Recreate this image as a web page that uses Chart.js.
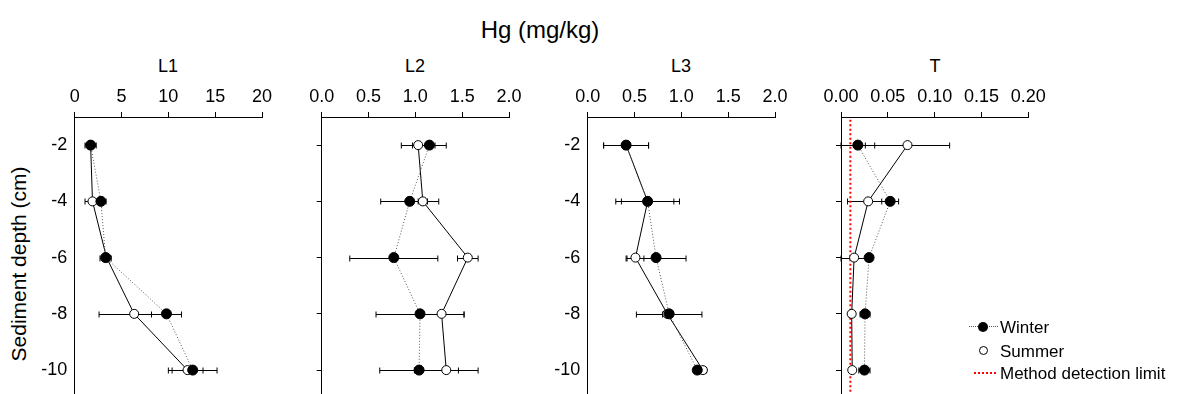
<!DOCTYPE html>
<html>
<head>
<meta charset="utf-8">
<script src="https://cdn.jsdelivr.net/npm/chart.js@4.4.1/dist/chart.umd.min.js"></script>
<style>
  body { margin: 0; width: 1182px; height: 394px; position: relative; overflow: hidden; background: #fff;
         font-family: "Liberation Sans", Arial, Helvetica, sans-serif; color: #000; }
  canvas { position: absolute; top: 0; }
  .lbl { position: absolute; white-space: nowrap; transform: translate(-50%, -50%); line-height: 1; }
  .leg { position: absolute; left: 1000px; font-size: 17px; line-height: 1; transform: translateY(-50%); white-space: nowrap; }
  .mark { position: absolute; box-sizing: border-box; }
</style>
</head>
<body>
<div class="lbl" style="left:540px;top:30px;font-size:24px">Hg (mg/kg)</div>
<div class="lbl" style="left:168px;top:66px;font-size:18px">L1</div>
<div class="lbl" style="left:415px;top:66px;font-size:18px">L2</div>
<div class="lbl" style="left:681px;top:66px;font-size:18px">L3</div>
<div class="lbl" style="left:935px;top:66px;font-size:18px">T</div>
<div class="lbl" style="left:18px;top:264px;font-size:21px;transform:translate(-50%,-50%) rotate(-90deg)">Sediment depth (cm)</div>

<canvas id="c1"></canvas>
<canvas id="c2"></canvas>
<canvas id="c3"></canvas>
<canvas id="c4"></canvas>

<!-- legend -->
<div class="mark" style="left:969px;top:326px;width:29px;height:0;border-top:1px dotted #555"></div>
<div class="mark" style="left:978px;top:322px;width:10px;height:10px;border-radius:50%;background:#000"></div>
<div class="leg" style="top:327px">Winter</div>
<div class="mark" style="left:978.5px;top:346px;width:9px;height:9px;border-radius:50%;border:1px solid #000;background:#fff"></div>
<div class="leg" style="top:351px">Summer</div>
<div class="mark" style="left:974px;top:372px;width:22px;height:0;border-top:2px dotted #ff0000"></div>
<div class="leg" style="top:373px">Method detection limit</div>

<script>
Chart.defaults.font.family = '"Liberation Sans", Arial, Helvetica, sans-serif';
Chart.defaults.color = "#000";

var depths = [-2, -4, -6, -8, -10];
var depthMin = -10.85;
var depthMax = -1;

var l1Ticks = [0, 5, 10, 15, 20];
var l23Ticks = [0, 0.5, 1, 1.5, 2];
var tTicks = [0, 0.05, 0.1, 0.15, 0.2];

// L1
var l1Winter = [1.7, 2.8, 3.3, 9.8, 12.6];
var l1WinterErr = [0.6, 0.55, 0.6, 1.6, 2.6];
var l1Summer = [1.7, 1.9, 3.4, 6.35, 12.05];
var l1SummerErr = [0.2, 0.8, 0.3, 3.75, 1.65];
// L2
var l2Winter = [1.15, 0.94, 0.77, 1.05, 1.04];
var l2WinterErr = [0.18, 0.31, 0.47, 0.47, 0.42];
var l2Summer = [1.03, 1.08, 1.56, 1.28, 1.33];
var l2SummerErr = [0.18, 0.05, 0.11, 0.24, 0.34];
// L3
var l3Winter = [0.41, 0.64, 0.73, 0.87, 1.17];
var l3WinterErr = [0.24, 0.34, 0.32, 0.35, 0.03];
var l3Summer = [0.41, 0.64, 0.51, 0.85, 1.23];
var l3SummerErr = [0.24, 0.28, 0.09, 0.05, 0.04];
// T
var tWinter = [0.018, 0.0525, 0.030, 0.0257, 0.025];
var tWinterErr = [0.018, 0.009, 0.003, 0.0053, 0.006];
var tSummer = [0.071, 0.029, 0.014, 0.0114, 0.012];
var tSummerErr = [0.045, 0.022, 0.014, 0.003, 0.002];
var detectionLimit = 0.01;

function pts(vals) {
  return vals.map(function (v, i) { return { x: v, y: depths[i] }; });
}

// horizontal error bars with small caps, under the markers
var errorBars = {
  id: "errorBars",
  beforeDatasetsDraw: function (chart) {
    var ctx = chart.ctx, xs = chart.scales.x, ys = chart.scales.y;
    ctx.save();
    ctx.strokeStyle = "#000";
    ctx.lineWidth = 1;
    chart.data.datasets.forEach(function (ds) {
      if (!ds.errors) return;
      ds.data.forEach(function (p, i) {
        var e = ds.errors[i];
        var x1 = xs.getPixelForValue(p.x - e);
        var x2 = xs.getPixelForValue(p.x + e);
        var y = Math.round(ys.getPixelForValue(p.y)) + 0.5;
        ctx.beginPath();
        ctx.moveTo(x1, y); ctx.lineTo(x2, y);
        ctx.moveTo(x1, y - 3); ctx.lineTo(x1, y + 3);
        ctx.moveTo(x2, y - 3); ctx.lineTo(x2, y + 3);
        ctx.stroke();
      });
    });
    ctx.restore();
  }
};

function makePanel(id, axisX, winter, winterErr, summer, summerErr, xTicks, digits, yLabels, mdl) {
  var canvas = document.getElementById(id);
  var left = Math.floor(axisX) - 72;
  var yW = axisX - left;
  var plotW = 187.3;
  var w = Math.ceil(yW + plotW + 26);
  canvas.style.left = left + "px";
  canvas.width = w;
  canvas.height = 394;

  var datasets = [
    { label: "Winter", data: pts(winter), errors: winterErr, showLine: true,
      borderColor: "#555", borderWidth: 1, borderDash: [1, 2],
      pointRadius: 5, pointBackgroundColor: "#000", pointBorderColor: "#000", pointBorderWidth: 1 },
    { label: "Summer", data: pts(summer), errors: summerErr, showLine: true,
      borderColor: "#000", borderWidth: 1,
      pointRadius: 4.5, pointBackgroundColor: "#fff", pointBorderColor: "#000", pointBorderWidth: 1 }
  ];
  if (mdl !== undefined) {
    datasets.push({ label: "Method detection limit",
      data: [{ x: mdl, y: depthMax - 0.1 }, { x: mdl, y: depthMin }],
      showLine: true, borderColor: "#ff0000", borderWidth: 2, borderDash: [2, 2.5], pointRadius: 0 });
  }

  new Chart(canvas, {
    type: "scatter",
    data: { datasets: datasets },
    options: {
      responsive: false,
      animation: false,
      layout: { autoPadding: false, padding: { left: 0, top: 0, bottom: 0, right: w - yW - plotW } },
      plugins: { legend: { display: false }, tooltip: { enabled: false } },
      scales: {
        x: {
          type: "linear", position: "top",
          min: xTicks[0], max: xTicks[xTicks.length - 1],
          afterBuildTicks: function (s) { s.ticks = xTicks.map(function (v) { return { value: v }; }); },
          afterFit: function (s) { s.height = 117; s.paddingLeft = 0; s.paddingRight = 0; },
          grid: { drawOnChartArea: false, drawTicks: true, tickLength: 5, color: "#000", lineWidth: 1 },
          border: { display: true, color: "#000", width: 1 },
          ticks: { color: "#000", font: { size: 18 }, padding: 4, maxRotation: 0, autoSkip: false,
            callback: function (v) { return Number(v).toFixed(digits); } }
        },
        y: {
          type: "linear", min: depthMin, max: depthMax,
          afterBuildTicks: function (s) { s.ticks = depths.map(function (v) { return { value: v }; }); },
          afterFit: function (s) { s.width = yW; s.paddingTop = 0; s.paddingBottom = 0; },
          grid: { drawOnChartArea: false, drawTicks: !yLabels, tickLength: 5, color: "#000", lineWidth: 1 },
          border: { display: true, color: "#000", width: 1 },
          ticks: { color: "#000", font: { size: 18 }, padding: 7.5, autoSkip: false,
            callback: function (v) { return yLabels ? String(v) : ""; } }
        }
      }
    },
    plugins: [errorBars]
  });
}

makePanel("c1", 74.7, l1Winter, l1WinterErr, l1Summer, l1SummerErr, l1Ticks, 0, true);
makePanel("c2", 321.7, l2Winter, l2WinterErr, l2Summer, l2SummerErr, l23Ticks, 1, false);
makePanel("c3", 587.7, l3Winter, l3WinterErr, l3Summer, l3SummerErr, l23Ticks, 1, true);
makePanel("c4", 841, tWinter, tWinterErr, tSummer, tSummerErr, tTicks, 2, false, detectionLimit);
</script>
</body>
</html>
